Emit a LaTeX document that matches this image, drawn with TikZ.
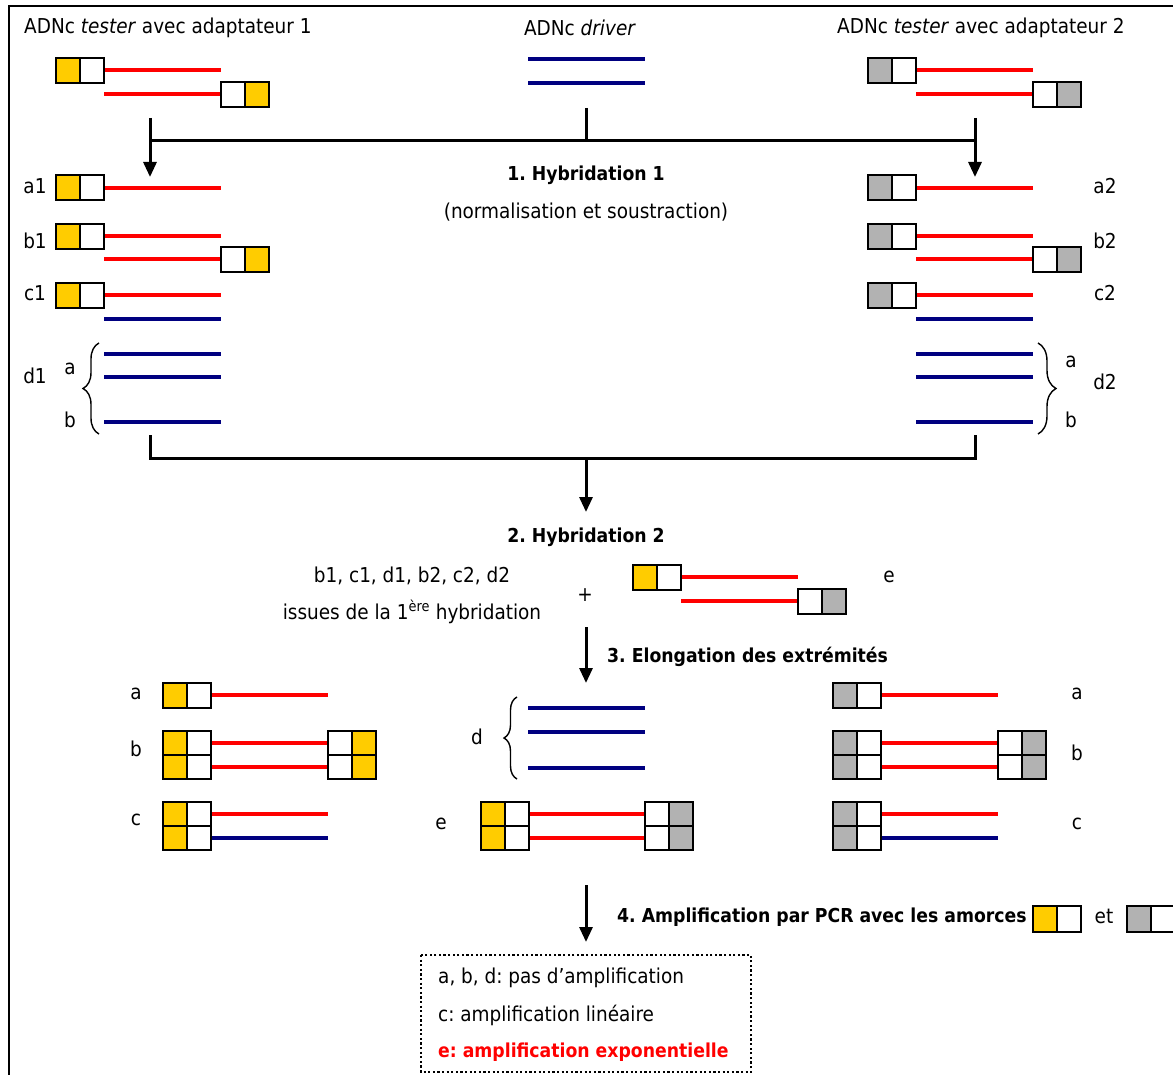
\documentclass[tikz,border=0pt]{standalone}
\usepackage{fontspec}
\setmainfont{DejaVu Sans Condensed}
\usetikzlibrary{arrows.meta,decorations.pathreplacing}
\definecolor{ayel}{HTML}{FFCC00}
\definecolor{agray}{HTML}{B2B2B2}
\definecolor{anavy}{HTML}{000080}
\definecolor{ared}{HTML}{FF0000}
\frenchspacing
\tikzset{
  cellst/.style={draw=black, line width=2pt},
  rline/.style={draw=ared, line width=4pt},
  nline/.style={draw=anavy, line width=4pt},
  conn/.style={draw=black, line width=3pt},
  arr/.style={conn, -{Triangle[width=13pt,length=15pt]}},
  txt/.style={font=\fontsize{20.5}{24}\selectfont, inner sep=0pt},
  btxt/.style={font=\fontsize{19.2}{24}\selectfont\bfseries, inner sep=0pt},
  bracest/.style={draw=black, line width=1.4pt, decorate},
  dotbox/.style={draw=black, line width=2.2pt, dash pattern=on 2.2pt off 2.4pt},
  frame/.style={draw=black, line width=2pt}
}
\newcommand\adap[5]{%
  \filldraw[cellst,fill=#4] (#1,#2) rectangle ++(24,#3);
  \filldraw[cellst,fill=#5] (#1+24,#2) rectangle ++(24,#3);}
\begin{document}
\begin{tikzpicture}[x=1pt,y=-1pt]
\clip (0,0) rectangle (1173,1075);
\fill[white] (0,0) rectangle (1173,1075);
\draw[frame] (8.5,1080) -- (8.5,6) -- (1180,6);

% ---- titles
\node[txt,anchor=west] (t1) at (24,28) {ADNc \textit{tester} avec adaptateur 1};
\node[txt] (t2) at (580,28) {ADNc \textit{driver}};
\node[txt,anchor=west] (t3) at (837,28) {ADNc \textit{tester} avec adaptateur 2};

% ---- top molecules
\draw[rline] (104,70) -- (221,70);
\draw[rline] (104,94) -- (221,94);
\adap{56}{58}{25}{ayel}{white}
\adap{221}{82}{25}{white}{ayel}
\draw[nline] (528,59) -- (645,59);
\draw[nline] (528,83) -- (645,83);
\draw[rline] (916,70) -- (1033,70);
\draw[rline] (916,94) -- (1033,94);
\adap{868}{58}{25}{agray}{white}
\adap{1033}{82}{25}{white}{agray}

% ---- connectors 1
\coordinate (drv) at (586,108);
\coordinate (hL) at (150,141);
\coordinate (hM) at (586,141);
\coordinate (hR) at (975,141);
\coordinate (sL) at (150,118);
\coordinate (sR) at (975,118);
\coordinate (eL) at (150,177);
\coordinate (eR) at (975,177);
\draw[conn] (hL) -- (hR);
\draw[conn] (drv) -- (hM);
\draw[arr] (sL) -- (eL);
\draw[arr] (sR) -- (eR);

\node[btxt] (h1) at (586,175) {1. Hybridation 1};
\node[txt] (h1b) at (586,212) {(normalisation et soustraction)};

% ---- left column
\node[txt] (la1) at (35,186) {a1};
\node[txt] (lb1) at (35,241) {b1};
\node[txt] (lc1) at (35,293) {c1};
\node[txt] (ld1) at (35,376) {d1};
\node[txt] (lda) at (70,369) {a};
\node[txt] (ldb) at (70,420) {b};
\draw[rline] (104,188) -- (221,188);
\adap{56}{175}{25}{ayel}{white}
\draw[rline] (104,236) -- (221,236);
\draw[rline] (104,259) -- (221,259);
\adap{56}{224}{25}{ayel}{white}
\adap{221}{247}{25}{white}{ayel}
\draw[rline] (104,295) -- (221,295);
\draw[nline] (104,319) -- (221,319);
\adap{56}{283}{25}{ayel}{white}
\draw[nline] (104,354) -- (221,354);
\draw[nline] (104,377) -- (221,377);
\draw[nline] (104,422) -- (221,422);
\draw[bracest,decoration={brace,amplitude=16pt}] (99,434) -- (99,343);

% ---- right column
\node[txt] (ra2) at (1105,186) {a2};
\node[txt] (rb2) at (1105,241) {b2};
\node[txt] (rc2) at (1105,293) {c2};
\node[txt] (rd2) at (1105,382) {d2};
\node[txt] (rda) at (1071,362) {a};
\node[txt] (rdb) at (1071,420) {b};
\draw[rline] (916,188) -- (1033,188);
\adap{868}{175}{25}{agray}{white}
\draw[rline] (916,236) -- (1033,236);
\draw[rline] (916,259) -- (1033,259);
\adap{868}{224}{25}{agray}{white}
\adap{1033}{247}{25}{white}{agray}
\draw[rline] (916,295) -- (1033,295);
\draw[nline] (916,319) -- (1033,319);
\adap{868}{283}{25}{agray}{white}
\draw[nline] (916,354) -- (1033,354);
\draw[nline] (916,377) -- (1033,377);
\draw[nline] (916,422) -- (1033,422);
\draw[bracest,decoration={brace,amplitude=18pt}] (1038,343) -- (1038,434);

% ---- connectors 2
\coordinate (bL) at (150,435);
\coordinate (bR) at (975,435);
\coordinate (cL) at (150,458);
\coordinate (cR) at (975,458);
\coordinate (cM) at (586,458);
\coordinate (a2e) at (586,512);
\draw[conn] (bL) -- (cL) -- (cR) -- (bR);
\draw[arr] (cM) -- (a2e);

\node[btxt] (h2) at (586,537) {2. Hybridation 2};
\node[txt] (s1) at (412,576) {b1, c1, d1, b2, c2, d2};
\node[txt] (s2) at (412,612) {issues de la 1\textsuperscript{ère} hybridation};
\node[txt] (plus) at (585,595) {+};
\node[txt] (le) at (889,577) {e};
\draw[rline] (681,577) -- (798,577);
\draw[rline] (681,601) -- (798,601);
\adap{633}{565}{25}{ayel}{white}
\adap{798}{589}{25}{white}{agray}

% ---- arrow 3
\coordinate (a3s) at (586,627);
\coordinate (a3e) at (586,683);
\draw[arr] (a3s) -- (a3e);
\node[btxt,anchor=west] (h3) at (607,657) {3. Elongation des extrémités};

% ---- section 3 left
\node[txt] (pa) at (136,694) {a};
\node[txt] (pb) at (136,749) {b};
\node[txt] (pc) at (136,820) {c};
\draw[rline] (211,695) -- (328,695);
\adap{163}{683}{25}{ayel}{white}
\draw[rline] (211,743) -- (328,743);
\draw[rline] (211,767) -- (328,767);
\adap{163}{731}{24}{ayel}{white}
\adap{163}{755}{24}{ayel}{white}
\adap{328}{731}{24}{white}{ayel}
\adap{328}{755}{24}{white}{ayel}
\draw[rline] (211,814) -- (328,814);
\draw[nline] (211,838) -- (328,838);
\adap{163}{802}{24}{ayel}{white}
\adap{163}{826}{24}{ayel}{white}

% ---- section 3 middle
\node[txt] (pd) at (477,737) {d};
\node[txt] (pe) at (441,824) {e};
\draw[nline] (528,708) -- (645,708);
\draw[nline] (528,732) -- (645,732);
\draw[nline] (528,768) -- (645,768);
\draw[bracest,decoration={brace,amplitude=13pt}] (517,779) -- (517,697);
\draw[rline] (529,814) -- (645,814);
\draw[rline] (529,838) -- (645,838);
\adap{481}{802}{24}{ayel}{white}
\adap{481}{826}{24}{ayel}{white}
\adap{645}{802}{24}{white}{agray}
\adap{645}{826}{24}{white}{agray}

% ---- section 3 right
\node[txt] (qa) at (1077,694) {a};
\node[txt] (qb) at (1077,753) {b};
\node[txt] (qc) at (1077,824) {c};
\draw[rline] (881,695) -- (998,695);
\adap{833}{683}{25}{agray}{white}
\draw[rline] (881,743) -- (998,743);
\draw[rline] (881,767) -- (998,767);
\adap{833}{731}{24}{agray}{white}
\adap{833}{755}{24}{agray}{white}
\adap{998}{731}{24}{white}{agray}
\adap{998}{755}{24}{white}{agray}
\draw[rline] (881,814) -- (998,814);
\draw[nline] (881,838) -- (998,838);
\adap{833}{802}{24}{agray}{white}
\adap{833}{826}{24}{agray}{white}

% ---- arrow 4
\coordinate (a4s) at (586,885);
\coordinate (a4e) at (586,942);
\draw[arr] (a4s) -- (a4e);
\node[btxt,anchor=west] (h4) at (617,917) {4. Amplification par PCR avec les amorces};
\adap{1033}{906}{26}{ayel}{white}
\node[txt] (et) at (1104,916) {et};
\adap{1127}{906}{26}{agray}{white}

% ---- result box
\draw[dotbox] (421,955) rectangle (751,1072);
\node[txt,anchor=west] (r1) at (438,978) {a, b, d: pas d’amplification};
\node[txt,anchor=west] (r2) at (438,1015) {c: amplification linéaire};
\node[btxt,anchor=west,text=ared] (r3) at (438,1052) {e: amplification exponentielle};
\end{tikzpicture}
\end{document}
